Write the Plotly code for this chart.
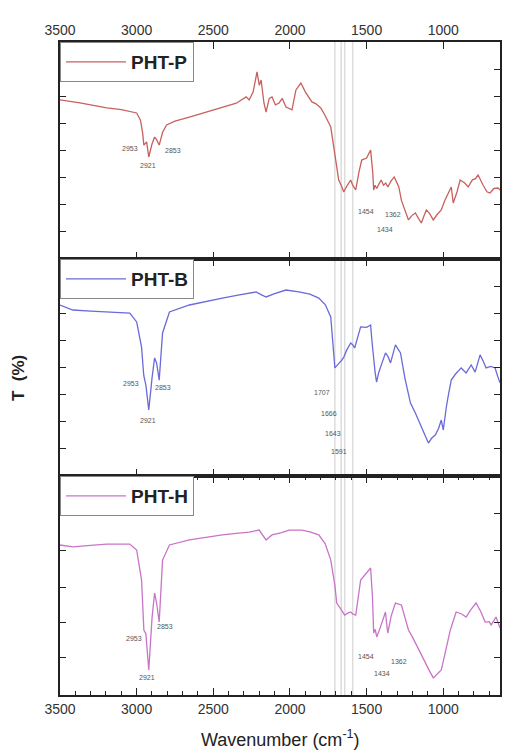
import plotly.graph_objects as go

# FTIR transmittance spectra (arbitrary units, 0-100 per panel)
wn_p = [3500, 3440, 3370, 3300, 3195, 3100, 3000, 2975, 2961, 2953, 2935, 2921, 2900, 2883, 2870,
        2853, 2830, 2805, 2750, 2656, 2550, 2441, 2350, 2286, 2266, 2240, 2215, 2200, 2188, 2170,
        2156, 2135, 2117, 2095, 2071, 2050, 2026, 1987, 1961, 1929, 1900, 1857, 1830, 1799, 1770,
        1734, 1707, 1682, 1666, 1649, 1630, 1604, 1591, 1571, 1550, 1532, 1500, 1474, 1460, 1454,
        1445, 1434, 1420, 1405, 1390, 1375, 1362, 1340, 1320, 1305, 1290, 1273, 1250, 1227, 1205,
        1182, 1160, 1143, 1125, 1110, 1090, 1065, 1040, 1013, 990, 960, 948, 935, 910, 890, 860,
        838, 810, 790, 773, 740, 715, 695, 670, 643, 630]
t_p = [73.3, 72.5, 71.9, 71.0, 69.6, 68.8, 67.3, 64.0, 58.1, 52.5, 54.0, 47.0, 53.0, 56.2, 55.0,
       52.5, 58.5, 61.8, 63.5, 65.4, 67.5, 70.0, 71.8, 74.7, 73.3, 77.0, 86.2, 80.0, 82.5, 72.0,
       67.7, 74.0, 74.7, 71.0, 71.9, 74.0, 70.0, 68.7, 77.9, 81.1, 77.0, 72.4, 71.5, 69.6, 66.0,
       60.8, 48.0, 36.4, 34.0, 30.9, 33.5, 36.4, 34.0, 31.8, 40.0, 45.6, 46.5, 50.2, 40.0, 31.8,
       34.0, 32.5, 34.5, 36.4, 34.0, 35.0, 33.2, 36.0, 37.8, 35.5, 33.2, 27.0, 22.0, 18.0, 20.0,
       21.2, 18.5, 16.6, 20.0, 22.6, 21.0, 18.0, 20.5, 22.6, 27.0, 32.0, 33.2, 25.8, 31.0, 36.4, 35.0,
       33.2, 36.5, 37.0, 38.7, 34.0, 31.0, 30.4, 32.5, 32.7, 31.8]

wn_b = [3500, 3416, 3300, 3195, 3045, 3000, 2968, 2955, 2953, 2940, 2921, 2900, 2883, 2870, 2853,
        2831, 2786, 2656, 2550, 2441, 2330, 2221, 2185, 2156, 2100, 2026, 1942, 1870, 1812, 1770,
        1734, 1707, 1680, 1666, 1649, 1630, 1604, 1591, 1578, 1539, 1500, 1474, 1465, 1455, 1445,
        1435, 1422, 1400, 1377, 1360, 1344, 1312, 1295, 1279, 1250, 1214, 1182, 1160, 1143, 1120,
        1097, 1075, 1052, 1030, 1013, 1000, 990, 980, 965, 948, 920, 883, 851, 818, 792, 760, 740,
        721, 690, 662, 645, 630]
t_b = [78.8, 76.5, 76.0, 75.6, 75.1, 71.0, 59.4, 47.5, 46.1, 42.0, 30.4, 45.0, 54.4, 52.1, 44.2,
       65.9, 75.6, 78.8, 80.5, 82.0, 83.5, 84.8, 83.5, 82.5, 84.0, 85.7, 84.8, 83.8, 82.0, 79.0,
       73.3, 49.8, 52.0, 53.0, 54.8, 58.0, 61.3, 60.5, 59.0, 68.7, 68.5, 69.6, 62.0, 53.5, 48.0,
       43.3, 47.5, 52.0, 56.7, 55.0, 52.1, 60.4, 58.5, 56.7, 45.0, 33.6, 29.0, 25.5, 22.6, 19.0,
       15.2, 17.5, 18.9, 22.0, 25.8, 21.2, 27.0, 31.8, 38.0, 44.2, 47.0, 49.8, 47.5, 51.2, 47.9,
       55.8, 53.0, 49.8, 50.5, 49.8, 46.0, 42.9]

wn_h = [3500, 3416, 3300, 3195, 3045, 3000, 2968, 2955, 2953, 2940, 2921, 2900, 2883, 2870, 2853,
        2831, 2786, 2656, 2550, 2441, 2350, 2266, 2201, 2175, 2156, 2117, 2060, 2006, 1922, 1870,
        1812, 1770, 1734, 1707, 1695, 1666, 1643, 1620, 1604, 1591, 1571, 1539, 1500, 1474, 1462,
        1454, 1444, 1434, 1410, 1377, 1370, 1362, 1340, 1312, 1273, 1250, 1227, 1205, 1182, 1150,
        1117, 1090, 1065, 1040, 1013, 985, 954, 916, 880, 851, 820, 786, 755, 727, 700, 688, 656,
        640, 630]
t_h = [68.5, 67.6, 68.3, 68.9, 68.9, 66.2, 52.5, 34.2, 29.7, 28.0, 11.4, 35.0, 46.6, 42.0, 33.3,
       61.6, 68.5, 70.8, 72.0, 73.1, 73.8, 74.4, 75.3, 73.0, 70.8, 73.1, 74.0, 75.3, 75.3, 74.5,
       73.1, 69.0, 61.6, 50.0, 42.0, 39.0, 36.5, 37.5, 37.9, 37.0, 36.5, 52.5, 55.5, 58.0, 45.0,
       28.3, 30.0, 26.5, 31.0, 37.9, 33.0, 28.3, 36.0, 42.0, 41.1, 35.0, 29.7, 27.0, 23.7, 19.0,
       14.6, 11.0, 7.8, 9.5, 11.4, 20.0, 29.7, 37.9, 37.0, 35.6, 39.0, 42.0, 38.0, 33.3, 33.5,
       32.0, 35.6, 32.5, 30.6]

series_names = ["PHT-P", "PHT-B", "PHT-H"]
series_colors = ["#c8605e", "#6a6ad8", "#c874c8"]

# peak labels: (text, wavenumber position, T position) per panel
labels_p = [("2953", 3045, 50.7), ("2921", 2929, 42.9), ("2853", 2766, 49.8),
            ("1454", 1506, 21.7), ("1434", 1383, 13.4), ("1362", 1325, 20.3)]
labels_b = [("2953", 3039, 42.4), ("2921", 2929, 25.8), ("2853", 2825, 40.6),
            ("1707", 1792, 38.7), ("1666", 1747, 29.0), ("1643", 1721, 19.8), ("1591", 1682, 11.1)]
labels_h = [("2953", 3019, 26.0), ("2921", 2935, 8.2), ("2853", 2818, 31.1),
            ("1454", 1506, 17.4), ("1434", 1402, 10.0), ("1362", 1286, 15.1)]

# marker bands drawn across all panels
band_positions = [1707, 1666, 1643, 1591]

y_ticks_pb = [12.5, 25, 37.5, 50, 62.5, 75, 87.5]
y_ticks_h = [16.9, 33.0, 49.3, 66.2, 83.1]

H_TOP, H_MID = 217, 217
TOTAL = 653
d_bot = (0, (TOTAL - H_TOP - H_MID) / TOTAL)
d_mid = (d_bot[1], (TOTAL - H_TOP) / TOTAL)
d_top = (d_mid[1], 1)

fig = go.Figure()
data = [(wn_p, t_p), (wn_b, t_b), (wn_h, t_h)]
axes = [("x", "y"), ("x2", "y2"), ("x3", "y3")]
legends = ["legend", "legend2", "legend3"]
for (wn, t), name, col, (xa, ya), lg in zip(data, series_names, series_colors, axes, legends):
    fig.add_trace(go.Scatter(x=wn, y=t, mode="lines", name=name, xaxis=xa, yaxis=ya,
                             line=dict(color=col, width=1.3), legend=lg, showlegend=True))

frame = dict(showline=True, linecolor="#222", linewidth=1.5, mirror="ticks",
             showgrid=False, zeroline=False)

def xax(anchor, side, labels, with_minor):
    ax = dict(range=[3500, 630], dtick=500, ticks="inside", ticklen=7,
              tickcolor="#222", side=side, showticklabels=labels,
              tickfont=dict(size=14, color="#333"), anchor=anchor, **frame)
    if with_minor:
        ax["minor"] = dict(dtick=100, ticks="inside", ticklen=4)
    return ax

def yax(domain, anchor, tv):
    return dict(domain=list(domain), range=[0, 100], tickvals=tv, ticks="inside",
                ticklen=6, tickcolor="#222",
                tickfont=dict(size=8, color="rgba(0,0,0,0)"),
                anchor=anchor, **frame)

fig.update_layout(
    width=505, height=756,
    margin=dict(l=60, r=3, t=42, b=61),
    font=dict(family="Liberation Sans"),
    plot_bgcolor="white",
    showlegend=True,
    xaxis=xax("y", "top", True, False),
    xaxis2=xax("y2", "bottom", False, False),
    xaxis3=xax("y3", "bottom", True, True),
    yaxis=yax(d_top, "x", y_ticks_pb),
    yaxis2=yax(d_mid, "x2", y_ticks_pb),
    yaxis3=yax(d_bot, "x3", y_ticks_h),
)

leg_style = dict(x=0, xanchor="left", yanchor="top", bgcolor="white",
                 bordercolor="#888", borderwidth=1, itemwidth=60, entrywidth=140,
                 font=dict(family="Liberation Sans", size=19, color="#222", weight="bold"))
fig.update_layout(legend=dict(y=d_top[1], **leg_style),
                  legend2=dict(y=d_mid[1], **leg_style),
                  legend3=dict(y=d_bot[1], **leg_style))

# band markers, one segment per panel
for xa, ya in axes:
    for b in band_positions:
        fig.add_shape(type="line", xref=xa, yref=ya + " domain", x0=b, x1=b, y0=0, y1=1,
                      line=dict(color="#dcdcdc", width=1.5), layer="below")

lab_font = dict(family="Liberation Sans", size=7, color="#555")
for labs, xa, ya in [(labels_p, "x", "y"), (labels_b, "x2", "y2"), (labels_h, "x3", "y3")]:
    for txt, xv, yv in labs:
        fig.add_annotation(x=xv, y=yv, xref=xa, yref=ya, text=txt, showarrow=False,
                           font=lab_font)

fig.add_annotation(x=-0.12, y=0.485, xref="paper", yref="paper", text="<b>T  (%)</b>",
                   textangle=-90, showarrow=False,
                   font=dict(family="Liberation Sans", size=17, color="#222"))
fig.add_annotation(x=0.5, y=-0.088, xref="paper", yref="paper",
                   text="Wavenumber (cm<sup>-1</sup>)", showarrow=False,
                   font=dict(family="Liberation Sans", size=18, color="#222"))

fig.write_html("out.html")
